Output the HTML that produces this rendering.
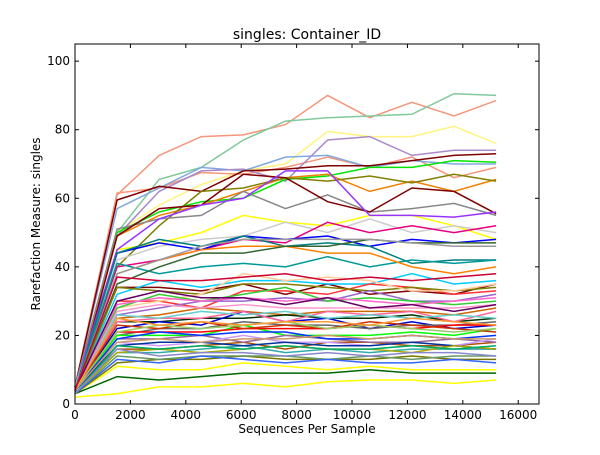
<!DOCTYPE html>
<html><head><meta charset="utf-8"><style>
html,body{margin:0;padding:0;background:#fff;}
svg text{font-family:"DejaVu Sans","Liberation Sans",sans-serif;}
</style></head><body>
<svg id="chart" width="600" height="450">
<rect width="600" height="450" fill="#fff"/>
<text x="307" y="39" font-size="14" text-anchor="middle">singles: Container_ID</text>
<text x="307" y="433" font-size="12" text-anchor="middle">Sequences Per Sample</text>
<text transform="translate(40,224) rotate(-90)" font-size="12" text-anchor="middle">Rarefaction Measure: singles</text>
<g id="lines"></g>
<rect x="75" y="44" width="464" height="360" fill="none" stroke="#000" stroke-width="1"/>
<g id="ticks"></g>
</svg>
<script>
const xValues=[0,1520,3040,4560,6080,7600,9120,10640,12160,13680,15200];
const xTicks=[0,2000,4000,6000,8000,10000,12000,14000,16000];
const yTicks=[0,20,40,60,80,100];
const seriesColors=["#f4977a","#80c99a","#fff47f","#f4977a","#80a8e0","#a88ac9","#7f0000","#00e600","#f07f00","#7f7f00","#888888","#ffff00","#7f0000","#9933ff","#cccccc","#e6007f","#0000ff","#007f7f","#009999","#ff8000","#336633","#999999","#7f0000","#00ccff","#ff3333","#7f7f00","#ffcc99","#9966cc","#33cc33","#cc6600","#003300","#0000cc","#ff6699","#666666","#ffff00","#00ff00","#006600","#aa5500","#996699","#33aaaa","#ffff00","#cc99ff","#777700","#ff0000","#0033ff","#ff99cc","#669966","#003399","#cc3300","#66cccc","#aaaa00","#ff66cc","#3366ff","#99cc66","#cc9966","#660066","#00aa66","#ff9933","#8888cc","#cc0033"];
const s0=[5,61,72.5,78,78.5,81.5,90,83.5,88,84,88.5];
const s1=[5,50,65.5,69,77,82.5,83.5,84,84.5,90.5,90];
const s2=[5,50,58,64,68,70,79.5,78,78,81,76];
const s3=[5,61.5,63,67.5,67,69,72,69,72,66,69];
const s4=[5,57,63,69,68,72,72.5,69,71,70,70];
const s5=[5,49,62,68,68.5,65,77,78,72.5,74,74];
const s6=[5,59.5,63.5,62,68,68.5,69.5,69.5,71,72.5,73];
const s7=[5,50,56,59,60,65.5,66.5,69,69,71,70.5];
const s8=[5,49,55,58,62,66,67,62,65,62,65.5];
const s9=[5,40,52,62,63,66,65,66.5,64.5,67,65];
const s10=[5,51,54,55,62,57,61,56,57,58.5,55];
const s11=[3,45,47,50,55,53,52,55,55,52,48];
const s12=[3,49,57,58,67,66,59,56,63,62,55.5];
const s13=[5,45,54,58,60,68,68,55,55,54.5,56];
const s14=[5,42,46,48,49,53,50,54,50,52,50];
const s15=[4,40,42,45,48,47,53,50,52,50,52];
const s16=[4,44,47,45,49,48,49,46,48,47,48];
const s17=[4,44,48,46,49,46,47,46,41,42,42];
const s18=[4,41,38,40,41,40,43,40,42,41,42];
const s19=[4,38,42,45,46,46,44,44,40,38,40];
const s20=[4,35,40,44,44,46,46,48,47,47,47];
const s21=[4,38,42,46,48,48,48,48,47,46,46];
const s22=[4,34,34,33,35,32,35,32,33,32,35];
const s23=[4,32,36,34,36,36,35,35,38,35,36];
const s24=[4,30,30,28,33,33,32,35,34,32,33];
const s25=[4,34,33,32,35,35,34,33,34,33,34];
const s26=[4,28,30,32,38,36,37,36,33,33,35];
const s27=[4,26,28,30,30,31,30,33,30,30,32];
const s28=[4,28,32,30,32,34,30,31,30,29,30];
const s29=[4,25,26,28,27,26,27,27,27,26,28];
const s30=[4,24,24,25,25,26,25,25,26,24,25];
const s31=[4,22,24,23,27,24,25,22,24,22,23];
const s32=[4,24,25,25,27,24,27,26,27,24,27];
const s33=[4,20,22,22,24,23,23,22,23,23,24];
const s34=[3,11,10,10,12,11,10,11,10,10,10];
const s35=[4,20,20,20,23,20,20,20,21,20,22];
const s36=[3,8,7,8,9,9,9,10,9,9,9];
const s37=[4,16,16,17,18,16,18,18,17,17,18];
const s38=[4,19,19,20,18,20,19,18,18,19,18];
const s39=[4,15,15,16,17,15,16,15,16,16,16];
const s40=[2,3,5,5,6,5,6.5,7,7,6,7];
const s41=[4,18,17,18,20,18,18,17,18,17,19];
const s42=[3,12,13,13,14,13,13,13,14,13,13];
const s43=[4,21,21,21,22,22,22,23,22,23,23];
const s44=[4,19,21,20,21,21,19,19,20,19,20];
const s45=[4,27,29,28,29,28,28,28,28,28,29];
const s46=[3,14,13,14,14,14,13,14,13,14,14];
const s47=[4,17,18,18,17,18,17,17,18,17,16];
const s48=[4,23,22,24,22,23,22,24,23,22,21];
const s49=[4,26,25,27,26,27,25,26,25,26,25];
const s50=[3,15,16,15,16,17,16,16,15,17,16];
const s51=[4,29,31,30,31,30,31,30,29,30,31];
const s52=[3,13,12,14,13,12,13,12,12,13,12];
const s53=[4,21,23,22,23,24,22,23,22,21,22];
const s54=[4,18,19,18,19,19,20,19,20,19,19];
const s55=[4,30,33,31,31,29,31,28,29,27,29];
const s56=[3,17,16,17,16,17,16,16,17,16,17];
const s57=[4,25,23,24,23,24,24,23,25,24,23];
const s58=[3,16,14,15,15,14,15,14,15,15,14];
const s59=[4,37,36,36,37,38,36,37,36,37,38];
const seriesValues=[s0,s1,s2,s3,s4,s5,s6,s7,s8,s9,s10,s11,s12,s13,s14,s15,s16,s17,s18,s19,s20,s21,s22,s23,s24,s25,s26,s27,s28,s29,s30,s31,s32,s33,s34,s35,s36,s37,s38,s39,s40,s41,s42,s43,s44,s45,s46,s47,s48,s49,s50,s51,s52,s53,s54,s55,s56,s57,s58,s59];
const X0=75,X1=539,Y0=404,Y1=44,XMAX=16750,YMAX=105;
function xs(v){return X0+(X1-X0)*v/XMAX;}
function ys(v){return Y0-(Y0-Y1)*v/YMAX;}
const NS="http://www.w3.org/2000/svg";
const lg=document.getElementById('lines');
seriesValues.forEach((vals,i)=>{
  const p=document.createElementNS(NS,'polyline');
  p.setAttribute('points',vals.map((v,j)=>xs(xValues[j]).toFixed(1)+','+ys(v).toFixed(1)).join(' '));
  p.setAttribute('fill','none');
  p.setAttribute('stroke',seriesColors[i%seriesColors.length]);
  p.setAttribute('stroke-width','1.5');
  
  
  lg.appendChild(p);
});
const tg=document.getElementById('ticks');
xTicks.forEach(t=>{
  const x=xs(t);
  [[Y0,Y0-4],[Y1,Y1+4]].forEach(pr=>{
    const l=document.createElementNS(NS,'line');
    l.setAttribute('x1',x);l.setAttribute('x2',x);l.setAttribute('y1',pr[0]);l.setAttribute('y2',pr[1]);
    l.setAttribute('stroke','#000');
    
    
    tg.appendChild(l);
  });
  const tx=document.createElementNS(NS,'text');
  tx.setAttribute('x',x);tx.setAttribute('y',Y0+15);tx.setAttribute('font-size','12');tx.setAttribute('text-anchor','middle');
  tx.textContent=t;
  
  
  tg.appendChild(tx);
});
yTicks.forEach(t=>{
  const y=ys(t);
  [[X0,X0+4],[X1,X1-4]].forEach(pr=>{
    const l=document.createElementNS(NS,'line');
    l.setAttribute('x1',pr[0]);l.setAttribute('x2',pr[1]);l.setAttribute('y1',y);l.setAttribute('y2',y);
    l.setAttribute('stroke','#000');
    
    
    tg.appendChild(l);
  });
  const tx=document.createElementNS(NS,'text');
  tx.setAttribute('x',X0-5);tx.setAttribute('y',y+4);tx.setAttribute('font-size','12');tx.setAttribute('text-anchor','end');
  tx.textContent=t;
  
  
  tg.appendChild(tx);
});
</script>
</body></html>
